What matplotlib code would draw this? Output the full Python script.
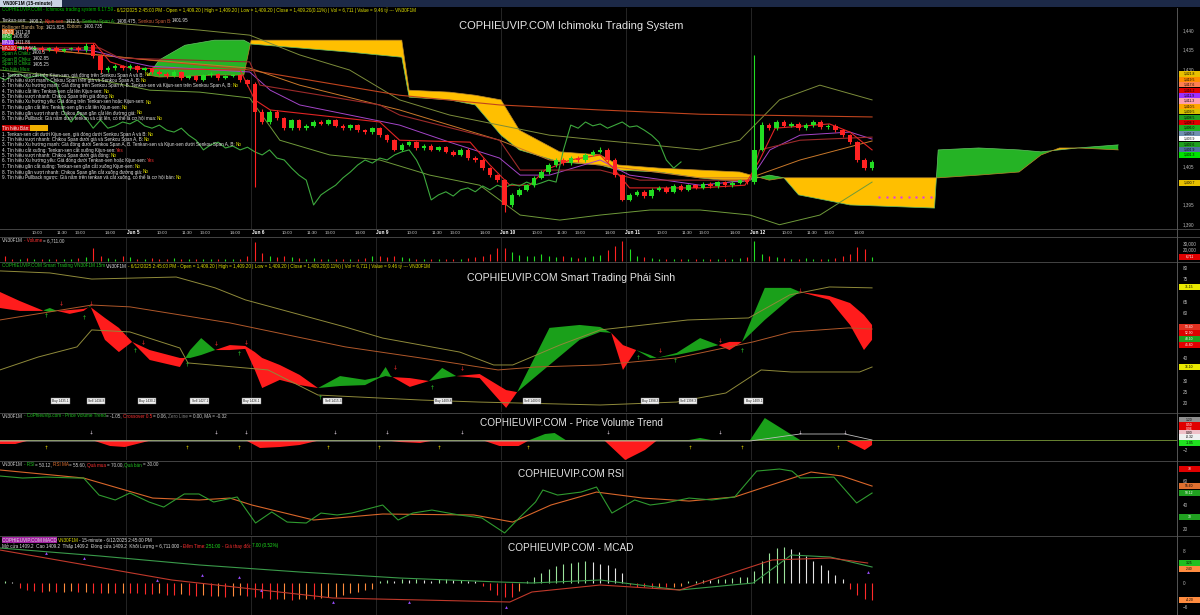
import matplotlib
matplotlib.use("Agg")
import numpy as np
import matplotlib.pyplot as plt
from matplotlib import font_manager
from matplotlib.patches import Rectangle
from matplotlib.text import Annotation
from matplotlib.transforms import blended_transform_factory

W, H = 1200, 615
plt.rcParams['font.family'] = ['Liberation Sans', 'DejaVu Sans']

installed = {f.name for f in font_manager.fontManager.ttflist}
if 'Liberation Sans Narrow' in installed:
    TINY = ['Liberation Sans Narrow', 'DejaVu Sans']
    TINY_SIZE = 3.9
else:
    TINY = ['Liberation Sans', 'DejaVu Sans']
    TINY_SIZE = 3.3

# ---------------- data: VN30F1M 15-minute, 17 bars per session ----------------
day_labels = ["Jun 4", "Jun 5", "Jun 6", "Jun 9", "Jun 10", "Jun 11", "Jun 12"]
bars_per_day = 17
time_labels = ["10:00", "11:30", "13:00", "14:00"]
time_bar_in_day = [4.4, 7.8, 10.2, 14.3]

opens = [
    1436.3, 1435.9, 1435.4, 1435.6, 1435.1, 1435.4, 1434.8, 1435.4, 1434.6, 1435.1, 1435.4, 1434.8, 1436.2, 1433.4, 1429.7, 1430.2, 1430.7,
    1430.2, 1430.7, 1429.7, 1430.2, 1429.2, 1428.7, 1428.1, 1429.2, 1427.6, 1428.1, 1427.1, 1428.4, 1428.7, 1427.6, 1428.1, 1428.4, 1427.1,
    1426.1, 1418.9, 1416.3, 1418.9, 1417.3, 1414.7, 1416.8, 1414.7, 1415.3, 1416.3, 1415.8, 1416.8, 1415.3, 1414.7, 1415.5, 1414.2, 1413.7,
    1414.7, 1412.9, 1411.6, 1409.1, 1410.4, 1411.1, 1409.6, 1410.1, 1409.1, 1409.8, 1408.6, 1407.8, 1409.1, 1407.0, 1406.5, 1404.4, 1402.6,
    1401.3, 1394.9, 1397.5, 1398.8, 1400.0, 1401.9, 1403.4, 1405.2, 1406.5, 1405.7, 1407.0, 1406.5, 1407.8, 1408.6, 1409.1, 1406.5, 1402.6,
    1396.2, 1397.5, 1398.3, 1397.2, 1398.8, 1399.3, 1398.3, 1399.8, 1398.8, 1400.0, 1399.3, 1400.3, 1399.8, 1400.8, 1400.0, 1400.6, 1401.3,
    1400.8, 1409.1, 1415.5, 1414.7, 1416.3, 1415.3, 1415.8, 1414.7, 1415.5, 1416.3, 1415.0, 1415.3, 1414.2, 1412.9, 1411.1, 1406.5, 1404.4,
]
closes = [
    1435.9, 1435.4, 1435.6, 1435.1, 1435.4, 1434.8, 1435.4, 1434.6, 1435.1, 1435.4, 1434.8, 1435.9, 1433.2, 1429.7, 1430.2, 1430.7, 1430.2,
    1430.7, 1429.7, 1430.2, 1429.2, 1428.7, 1428.1, 1429.2, 1427.6, 1428.1, 1427.1, 1428.4, 1428.7, 1427.6, 1428.1, 1428.4, 1427.1, 1426.1,
    1418.9, 1416.3, 1418.9, 1417.3, 1414.7, 1416.8, 1414.7, 1415.3, 1416.3, 1415.8, 1416.8, 1415.3, 1414.7, 1415.5, 1414.2, 1413.7, 1414.7,
    1412.9, 1411.6, 1409.1, 1410.4, 1411.1, 1409.6, 1410.1, 1409.1, 1409.8, 1408.6, 1407.8, 1409.1, 1407.0, 1406.5, 1404.4, 1402.6, 1401.3,
    1394.9, 1397.5, 1398.8, 1400.0, 1401.9, 1403.4, 1405.2, 1406.5, 1405.7, 1407.0, 1406.5, 1407.8, 1408.6, 1409.1, 1406.5, 1402.6, 1396.2,
    1397.5, 1398.3, 1397.2, 1398.8, 1399.3, 1398.3, 1399.8, 1398.8, 1400.0, 1399.3, 1400.3, 1399.8, 1400.8, 1400.0, 1400.6, 1401.3, 1400.8,
    1409.1, 1415.5, 1414.7, 1416.3, 1415.3, 1415.8, 1414.7, 1415.5, 1416.3, 1415.0, 1415.3, 1414.2, 1412.9, 1411.1, 1406.5, 1404.4, 1406.0,
]
highs = [
    1436.8, 1436.3, 1436.0, 1436.0, 1435.8, 1435.8, 1435.7, 1435.8, 1435.4, 1435.7, 1435.8, 1436.6, 1436.6, 1433.9, 1430.8, 1431.2, 1431.0,
    1431.3, 1431.1, 1430.6, 1430.5, 1429.6, 1429.1, 1429.6, 1429.5, 1428.5, 1428.4, 1428.8, 1429.1, 1429.0, 1428.5, 1428.8, 1428.7, 1427.5,
    1426.6, 1419.6, 1419.3, 1419.4, 1417.7, 1417.2, 1417.1, 1415.9, 1416.8, 1416.7, 1417.2, 1417.1, 1415.7, 1415.9, 1415.8, 1414.6, 1415.1,
    1415.1, 1413.3, 1412.0, 1410.8, 1411.5, 1411.5, 1410.5, 1410.5, 1410.2, 1410.2, 1409.0, 1409.5, 1409.5, 1407.4, 1406.9, 1404.8, 1403.0,
    1401.7, 1397.9, 1399.2, 1400.4, 1402.3, 1403.8, 1405.6, 1406.9, 1406.9, 1407.4, 1407.4, 1408.2, 1409.0, 1409.8, 1409.5, 1406.9, 1403.0,
    1398.0, 1398.7, 1398.7, 1399.2, 1399.7, 1399.7, 1400.2, 1400.2, 1400.4, 1400.4, 1400.7, 1400.7, 1401.2, 1401.2, 1401.0, 1401.7, 1401.7,
    1433.6, 1416.2, 1416.0, 1416.8, 1416.7, 1416.2, 1416.2, 1416.0, 1416.8, 1416.7, 1415.8, 1415.7, 1414.6, 1413.3, 1411.5, 1407.0, 1406.5,
]
lows = [
    1435.5, 1435.0, 1435.0, 1434.7, 1434.8, 1434.4, 1434.5, 1434.2, 1434.3, 1434.8, 1434.4, 1434.4, 1432.8, 1429.0, 1429.3, 1429.8, 1429.8,
    1429.8, 1429.3, 1429.4, 1428.8, 1428.3, 1427.7, 1427.8, 1427.2, 1427.3, 1426.8, 1426.8, 1428.0, 1427.2, 1427.3, 1427.8, 1426.7, 1425.7,
    1399.5, 1415.8, 1415.9, 1416.9, 1414.3, 1414.3, 1414.3, 1414.3, 1414.9, 1415.4, 1415.4, 1414.9, 1414.3, 1414.3, 1413.8, 1413.3, 1413.3,
    1412.5, 1411.2, 1408.7, 1408.7, 1410.0, 1409.2, 1409.2, 1408.7, 1408.7, 1408.2, 1407.4, 1407.4, 1406.6, 1406.1, 1404.0, 1402.2, 1400.9,
    1393.1, 1394.5, 1397.1, 1398.4, 1399.6, 1401.5, 1403.0, 1404.8, 1405.3, 1405.3, 1406.1, 1406.1, 1407.4, 1408.2, 1406.1, 1402.2, 1395.8,
    1395.8, 1397.1, 1396.8, 1396.8, 1398.4, 1397.9, 1397.9, 1398.4, 1398.4, 1398.9, 1398.9, 1399.4, 1399.4, 1399.6, 1399.6, 1400.2, 1400.4,
    1400.3, 1408.7, 1414.3, 1414.3, 1414.9, 1414.9, 1414.3, 1414.3, 1415.1, 1414.6, 1414.6, 1413.8, 1412.5, 1410.7, 1406.1, 1404.0, 1404.0,
]
volumes = [
    9000, 4000, 3500, 5000, 3000, 3500, 4000, 3000, 3500, 4000, 5000, 6000, 21000, 9000, 5000, 4000, 8000,
    7000, 4000, 3000, 4500, 3000, 3000, 5000, 3000, 2500, 3000, 4000, 3000, 3000, 2500, 3000, 4000, 9000,
    32000, 14000, 9000, 7000, 8000, 6000, 5000, 4000, 5000, 4000, 3500, 3000, 4000, 3500, 4000, 5000, 9000,
    8000, 7000, 9000, 6000, 5000, 4000, 4000, 3500, 3000, 3500, 4000, 3000, 5000, 6000, 9000, 12000, 21000,
    22000, 15000, 10000, 9000, 8000, 12000, 9000, 7000, 8000, 6000, 5000, 6000, 8000, 10000, 18000, 25000, 33000,
    20000, 9000, 6000, 5000, 4000, 3500, 3000, 4000, 3000, 3500, 3000, 4000, 3500, 3000, 4000, 5000, 7000,
    33000, 12000, 8000, 6000, 5000, 4000, 4000, 5000, 4000, 3500, 4000, 5000, 8000, 12000, 24000, 20000, 6711,
]

# Ichimoku cloud (already shifted forward)
cloud_x = [19.5, 21, 24.5, 28.5, 32.5, 33.5, 40, 47, 54, 55, 60.5, 64, 67.5, 70, 75.5, 81, 83.5, 89, 94.5,
           100, 104, 106, 108, 115, 126.5, 127, 132.5, 138, 141, 143.5, 146, 151.5]
span_a = [1428.4, 1432.3, 1436.1, 1437.4, 1437.4, 1436.4, 1435.4, 1434.3, 1433.0, 1422.7, 1422.0, 1420.7,
          1412.9, 1409.1, 1406.0, 1405.2, 1403.9, 1403.4, 1401.9, 1400.8, 1402.6, 1401.9, 1397.5, 1394.9, 1394.1,
          1409.1, 1409.6, 1409.1, 1408.6, 1409.1, 1409.6, 1410.4]
span_b = [1428.4, 1427.9, 1428.1, 1428.4, 1428.4, 1437.4, 1437.4, 1437.4, 1437.4, 1424.5, 1424.0, 1423.2,
          1422.0, 1414.2, 1408.6, 1407.8, 1405.2, 1404.4, 1403.9, 1403.4, 1401.3, 1401.9, 1401.9, 1401.9, 1401.9,
          1401.9, 1402.6, 1403.4, 1407.8, 1409.6, 1409.6, 1409.1]
chikou_shift = 26

tenkan_x = [-0.7, 12.2, 14.3, 17, 32, 34, 36.1, 51, 53.7, 63.3, 66, 68.7, 71.4, 73.5, 76.9, 81, 83, 85, 94.6,
            100.7, 102.7, 104.8, 112.2, 115, 118]
tenkan = [1436.6, 1436.6, 1431.8, 1430.2, 1429.7, 1422.0, 1419.4, 1416.3, 1411.6, 1411.1, 1405.2, 1400.0, 1400.0,
          1403.9, 1406.5, 1407.8, 1403.9, 1399.3, 1399.3, 1400.0, 1406.5, 1414.7, 1415.8, 1413.7, 1409.1]
kijun_x = [-0.7, 12.9, 15.6, 33.3, 34.7, 51, 53.7, 67.3, 70.1, 81, 86.4, 101.4, 102.7, 108.2, 118]
kijun = [1435.4, 1435.4, 1432.8, 1431.8, 1425.8, 1420.7, 1418.1, 1411.6, 1403.9, 1403.9, 1401.3, 1401.3, 1409.1,
         1411.6, 1412.4]
ma10_x = [-0.7, 11.6, 14.3, 17, 19.7, 33.3, 36.1, 40.1, 46.9, 53.7, 60.5, 67.3, 70.1, 74.1, 81, 85, 94.6, 101.4,
          104.1, 108.2, 115, 118]
ma10 = [1435.4, 1434.8, 1433.6, 1431.8, 1430.7, 1429.2, 1424.5, 1420.7, 1418.1, 1415.5, 1411.1, 1407.0, 1402.6,
        1402.6, 1406.5, 1402.6, 1400.0, 1401.3, 1409.1, 1412.9, 1413.7, 1411.9]
ma20_x = [-0.7, 19.7, 33.3, 40.1, 53.7, 67.3, 74.1, 81, 94.6, 101.4, 108.2, 118]
ma20 = [1436.1, 1432.3, 1430.2, 1425.8, 1419.4, 1411.6, 1406.5, 1405.2, 1401.9, 1401.9, 1406.5, 1411.4]
ma200_x = [-0.7, 33.3, 53.7, 67.3, 81, 94.6, 118]
ma200 = [1436.1, 1429.7, 1423.2, 1420.7, 1419.4, 1418.3, 1417.6]
bb_up_x = [-0.7, 12.9, 26.5, 33.3, 40.1, 46.9, 53.7, 60.5, 67.3, 74.1, 81, 87.8, 94.6, 100, 105.4, 110.9, 118]
bb_up = [1442.1, 1442.1, 1440.0, 1438.7, 1433.6, 1429.7, 1422.0, 1418.1, 1415.5, 1412.9, 1411.6, 1410.4, 1409.1,
         1411.6, 1422.0, 1425.8, 1422.0]
bb_dn_x = [-0.7, 12.9, 19.7, 26.5, 33.3, 37.4, 44.2, 51, 57.8, 64.6, 70.1, 75.5, 81, 87.8, 94.6, 101.4, 105.4,
           110.9, 118]
bb_dn = [1429.7, 1427.1, 1424.5, 1424.0, 1422.5, 1411.6, 1407.8, 1406.5, 1402.6, 1400.0, 1392.3, 1391.0, 1392.3,
         1393.6, 1393.6, 1392.3, 1389.8, 1392.3, 1400.8]
proj_x = [119, 120, 121, 122, 123, 124, 125, 126]
proj_v = [1397.0, 1397.0, 1397.0, 1397.0, 1397.0, 1397.0, 1397.0, 1397.0]
price_ticks = [1390, 1395, 1405, 1430, 1435, 1440]

main_tag_text = ["1,421.8", "1,419.5", "1,417.6", "1,416.2", "1,411.9", "1,411.3", "1,410.5", "1,409.5",
                 "1,408.5", "1,408.2", "1,406.0", "1,405.2", "1,403.9", "1,402.6", "1,401.9", "1,401.3"]
main_tag_color = ['#e8c000', '#ff8c00', '#ff7f50', '#e00000', '#9b30ff', '#ff9fb0', '#ffa500', '#d8c000',
                  '#20a020', '#e00000', '#20b020', '#7090b0', '#ffffff', '#20a020', '#5070a0', '#00e000']

# Smart Trading oscillator
st_x = [-0.7, 2.0, 5.0, 6.1, 7.1, 8.8, 10.7, 11.6, 13.6, 15.5, 17.3, 19.7, 23.8, 25.2, 26.7, 28.6, 30.6, 32.7,
        34.0, 35.0, 37.4, 40.1, 42.6, 45.6, 49.0, 50.9, 51.8, 52.5, 55.1, 57.7, 59.5, 61.4, 64.6, 68.2, 69.7,
        74.1, 78.2, 81.0, 82.5, 84.1, 85.9, 87.8, 88.7, 91.4, 94.6, 97.1, 98.6, 100.3, 103.4, 106.9, 108.2,
        112.2, 115.0, 116.9, 118]
st_fast = [62.2, 60.9, 60.9, 62.2, 60.9, 59.6, 60.9, 63.1, 48.1, 42.7, 47.2, 39.2, 36.1, 43.6, 48.9, 43.6, 43.6,
           44.1, 34.8, 26.8, 30.4, 28.1, 26.8, 32.1, 30.4, 31.7, 36.1, 32.1, 27.3, 29.9, 35.7, 32.1, 31.2, 18.0,
           25.0, 53.4, 54.7, 53.8, 51.2, 34.8, 43.6, 41.4, 40.1, 42.3, 48.9, 45.8, 43.6, 47.2, 71.1, 71.1, 69.3,
           65.8, 54.7, 43.6, 48.1]
st_slow = [69.3, 65.3, 61.3, 60.4, 60.9, 61.3, 61.8, 62.7, 57.8, 53.4, 47.2, 43.6, 40.1, 40.1, 41.4, 43.6, 45.8,
           45.4, 42.7, 40.1, 37.0, 32.6, 26.8, 27.7, 28.1, 31.2, 32.1, 31.7, 31.2, 29.9, 31.2, 32.1, 33.0, 25.9,
           25.0, 37.0, 48.1, 51.6, 51.2, 45.8, 43.6, 40.1, 40.1, 41.4, 43.6, 45.8, 47.2, 47.2, 56.9, 66.6, 69.3,
           67.5, 64.4, 59.1, 54.7]
st_up_x = [-0.7, 6.1, 11.8, 23.3, 28.6, 32.7, 46.3, 51.4, 61.9, 66.5, 69.1, 75.5, 81.0, 92.9, 101.2, 106.8, 112.2, 118]
st_up = [78.6, 77.7, 75.0, 75.9, 71.1, 65.8, 53.8, 48.9, 42.7, 37.0, 37.0, 45.8, 52.5, 56.9, 57.8, 68.0, 71.5, 71.1]
st_mid_x = [-0.7, 11.8, 17.0, 30.6, 46.3, 56.6, 67.1, 72.2, 81.0, 91.4, 101.8, 107.0, 114.8, 118]
st_mid = [56.9, 63.5, 62.7, 55.6, 45.0, 40.1, 34.8, 36.1, 37.0, 40.1, 47.2, 51.6, 53.4, 52.9]
st_dn_x = [-0.7, 4.5, 9.8, 11.8, 17.0, 23.8, 24.9, 35.8, 42.6, 56.6, 64.5, 81.0, 91.4, 98.1, 102.9, 107.0, 116.3, 118]
st_dn = [34.8, 40.5, 45.0, 52.5, 51.6, 44.5, 37.9, 34.8, 23.7, 21.5, 20.6, 19.3, 20.6, 24.6, 34.8, 33.9, 33.9, 36.1]
st_sell_x = [7.6, 11.7, 18.8, 28.7, 32.8, 53.1, 62.2, 89.1, 97.3, 108.2]
st_sell_v = [64.4, 64.4, 47.2, 46.7, 47.2, 36.1, 35.7, 43.6, 48.1, 70.2]
st_buy_x = [5.6, 10.7, 17.7, 24.8, 31.8, 42.9, 58.1, 86.1, 91.2, 100.3]
st_buy_v = [59.1, 58.2, 43.6, 37.4, 42.3, 22.8, 27.3, 40.5, 39.2, 43.6]
st_box_x = [7.5, 12.4, 19.3, 26.5, 33.5, 44.6, 59.6, 71.7, 87.8, 92.9, 101.9]
st_box_text = ["Buy 1435.1", "Sell 1434.8", "Buy 1430.2", "Sell 1427.1", "Buy 1426.1", "Sell 1415.3",
               "Buy 1409.8", "Sell 1400.0", "Buy 1398.3", "Sell 1398.3", "Buy 1409.1"]
st_box_level = 21.1
st_ticks = [20, 25, 30, 40, 60, 65, 75, 80]

# Price Volume Trend
pvt_x = [-0.7, 1.4, 3.5, 11.8, 14.3, 16.3, 20.1, 32.7, 34.7, 37.4, 40.1, 43.0, 51.4, 53.7, 56.5, 58.6, 64.9,
         67.3, 69.9, 71.4, 73.5, 74.8, 76.3, 81.5, 84.4, 87.1, 88.8, 93.1, 94.6, 96.1, 101.4, 103.4, 108.2, 114.3,
         117.0, 118]
pvt = [-0.8, -0.8, 0, 0, -1.2, -1.4, 0, 0, -1.6, -1.4, -1.0, 0, 0, -0.4, -0.6, 0, 0, -1.2, -1.2, 0, 1.2, 1.4, 0,
       0, -4.0, -2.0, 0, 0, 0.4, 0, 0, 4.4, 0, 0, -2.0, -1.0]
pvt_ma_x = [-0.7, 101.4, 108.2, 114.3, 118]
pvt_ma = [-0.2, -0.2, 1.2, 1.2, 0.0]
pvt_up_x = [11.7, 28.7, 32.8, 44.9, 52.0, 62.2, 82.0, 97.3, 108.2, 114.3]
pvt_dn_x = [5.6, 24.8, 31.8, 44.0, 50.9, 59.1, 71.2, 93.2, 100.3, 113.3]

# RSI
rsi_x = [-0.7, 2.4, 5.6, 9.8, 10.7, 12.8, 15.0, 17.0, 19.6, 21.6, 24.4, 26.4, 28.4, 31.6, 34.1, 36.3, 38.4, 41.0,
         43.0, 45.2, 47.2, 51.4, 53.5, 55.5, 58.1, 61.8, 64.9, 68.0, 70.1, 72.2, 73.2, 75.2, 78.4, 80.5, 82.6, 85.7,
         87.8, 89.9, 93.1, 96.2, 99.3, 102.3, 105.4, 107.1, 108.2, 112.8, 115.9, 118.0]
rsi = [64.2, 62.5, 63.3, 62.5, 62.5, 48.3, 44.2, 50.0, 42.5, 38.3, 49.2, 49.2, 42.5, 46.7, 25.0, 34.2, 25.8, 25.0,
       33.3, 31.7, 33.3, 40.0, 27.5, 33.3, 35.8, 31.7, 29.2, 16.7, 30.0, 42.5, 52.5, 48.3, 50.8, 55.0, 33.3, 44.2,
       40.0, 41.7, 45.8, 44.2, 46.7, 68.3, 70.0, 68.3, 62.5, 63.3, 41.7, 50.0]
rsi_ma_x = [-0.7, 10.7, 20.1, 26.4, 30.6, 33.6, 42.0, 51.4, 63.8, 69.1, 74.3, 80.5, 86.8, 93.1, 99.3, 103.4,
            109.7, 113.9, 118.0]
rsi_ma = [69.2, 62.5, 45.8, 44.2, 45.8, 40.0, 27.5, 32.5, 31.7, 25.8, 40.0, 50.8, 45.8, 43.3, 46.7, 55.0, 67.5,
          64.2, 55.8]

# MACD
macd_hist = [
    0.5, 0.3, -1.2, -1.8, -2.0, -2.2, -2.0, -2.3, -2.2, -2.0, -2.3, -2.2, -2.4, -2.6, -2.5, -2.6, -2.4,
    -2.5, -2.6, -2.7, -2.8, -2.6, -2.9, -3.0, -2.8, -3.1, -3.2, -3.0, -3.3, -3.2, -3.4, -3.2, -3.0, -3.3,
    -3.6, -3.8, -3.9, -4.1, -4.0, -4.2, -4.1, -3.9, -4.0, -3.8, -3.6, -3.4, -3.0, -2.6, -2.2, -1.8, -1.4,
    0.6, 0.8, 0.5, 0.9, 0.7, 1.0, 0.8, 0.6, 0.9, 1.1, 0.7, 0.8, 0.5, 0.4, -0.8, -1.8, -3.0,
    -3.5, -3.6, -2.0, 0.5, 1.5, 2.5, 3.5, 4.2, 4.8, 5.0, 5.3, 5.5, 5.2, 4.8, 4.5, 3.8, 2.5,
    -0.6, -0.9, -1.1, -1.2, -1.0, -1.1, -0.9, -0.8, 0.4, 0.6, 0.8, 0.7, 0.9, 1.0, 1.2, 1.4, 1.6,
    3.0, 5.5, 7.5, 8.8, 9.0, 8.6, 7.8, 6.8, 5.5, 4.5, 3.2, 2.0, 1.0, -1.5, -3.0, -4.0, -4.2,
]
macd_x = [-0.7, 12.9, 26.5, 40.1, 53.7, 67.3, 71.7, 81.0, 91.8, 101.8, 107.0, 112.3, 118]
macd_line = [8.75, 6.75, 4.5, 2.75, 1.25, 0.25, 0.0, 0.75, -1.75, 0.0, 7.0, 6.5, 4.0]
signal_x = [-0.7, 22.7, 44.6, 68.7, 71.7, 81.0, 91.8, 104.4, 112.3, 117.4]
signal_line = [8.25, 0.75, -3.75, -4.75, -2.25, -0.5, -1.75, 5.75, 6.25, 5.0]
macd_mark_x = [5.6, 10.7, 20.7, 26.8, 31.8, 34.8, 44.6, 55.0, 68.2, 117.4]
macd_mark_v = [7.5, 6.25, 0.75, 2.0, 1.5, -1.75, -4.75, -4.75, -6.0, 2.75]

buy_rules = [
    "1. Tenkan-sen cắt trên Kijun-sen, giá đóng trên Senkou Span A và B:",
    "2. Tín hiệu vượt mạnh: Chikou Span trên giá và Senkou Span A, B:",
    "3. Tín hiệu Xu hướng mạnh: Giá đóng trên Senkou Span A, B. Tenkan-sen và Kijun-sen trên Senkou Span A, B:",
    "4. Tín hiệu cắt lên: Tenkan-sen cắt lên Kijun-sen:",
    "5. Tín hiệu vượt nhanh: Chikou Span trên giá đóng:",
    "6. Tín hiệu Xu hướng yếu: Giá đóng trên Tenkan-sen hoặc Kijun-sen:",
    "7. Tín hiệu gần cắt lên: Tenkan-sen gần cắt lên Kijun-sen:",
    "8. Tín hiệu gần vượt nhanh: Chikou Span gần cắt lên đường giá:",
    "9. Tín hiệu Pullback: Giá nằm dưới tenkan và cắt lên, có thể là cơ hội mua:",
]
buy_answers = ["No", "No", "No", "No", "No", "No", "No", "No", "No"]
sell_rules = [
    "1. Tenkan-sen cắt dưới Kijun-sen, giá đóng dưới Senkou Span A và B:",
    "2. Tín hiệu vượt nhanh: Chikou Span dưới giá và Senkou Span A, B:",
    "3. Tín hiệu Xu hướng mạnh: Giá đóng dưới Senkou Span A, B. Tenkan-sen và Kijun-sen dưới Senkou Span A, B:",
    "4. Tín hiệu cắt xuống: Tenkan-sen cắt xuống Kijun-sen:",
    "5. Tín hiệu vượt nhanh: Chikou Span dưới giá đóng:",
    "6. Tín hiệu Xu hướng yếu: Giá đóng dưới Tenkan-sen hoặc Kijun-sen:",
    "7. Tín hiệu gần cắt xuống: Tenkan-sen gần cắt xuống Kijun-sen:",
    "8. Tín hiệu gần vượt nhanh: Chikou Span gần cắt xuống đường giá:",
    "9. Tín hiệu Pullback ngược: Giá nằm trên tenkan và cắt xuống, có thể là cơ hội bán:",
]
sell_answers = ["No", "No", "No", "Yes", "No", "Yes", "No", "No", "No"]

# ---------------- figure ----------------
N = len(closes)
X_MIN, X_MAX = -0.68, 159.5
idx = np.arange(N)
UP, DOWN = '#22dd22', '#ff2222'

fig = plt.figure(figsize=(W / 100, H / 100), dpi=100, facecolor='black')


def pane(y0, y1):
    ax = fig.add_axes([0, 1 - y1 / H, 1177 / W, (y1 - y0) / H])
    ax.set_facecolor('black')
    ax.set_xlim(X_MIN, X_MAX)
    for s in ax.spines.values():
        s.set_visible(False)
    ax.tick_params(axis='x', bottom=False, labelbottom=False)
    ax.yaxis.tick_right()
    ax.tick_params(axis='y', right=False, labelright=True, labelsize=3.3,
                   labelcolor='#b8b8b8', pad=4, length=0)
    for d in range(1, len(day_labels)):
        ax.axvline(d * bars_per_day - 0.5, color='#2a2a2a', lw=0.6, zorder=0)
    return ax


def chain(x, y, parts, size=None):
    size = size or TINY_SIZE
    prev = None
    for part in parts:
        txt, col = part[0], part[1]
        kw = dict(color=col, fontsize=size, fontfamily=TINY, zorder=8)
        if len(part) > 2:
            kw['bbox'] = dict(boxstyle='square,pad=0.08', fc=part[2], ec='none')
        if prev is None:
            prev = fig.text(x / W, 1 - y / H, txt, ha='left', va='center', **kw)
        else:
            prev = fig.add_artist(Annotation(txt, xy=(1, 0.5), xycoords=prev, xytext=(0.6, 0),
                                             textcoords='offset points', ha='left', va='center', **kw))
    return prev


def tag(y, text, fc, tc='black'):
    fig.add_artist(Rectangle((1179 / W, 1 - (y + 2.6) / H), 21 / W, 5.2 / H,
                             transform=fig.transFigure, fc=fc, ec='none', zorder=6))
    fig.text(1189.5 / W, 1 - y / H, text, fontsize=2.4, color=tc, ha='center', va='center', zorder=7)


def title(y, text, size=7.2):
    fig.text(571 / W, 1 - y / H, text, color='#e4e4e4', fontsize=size, ha='center', va='center', zorder=8)


# top strip
fig.add_artist(Rectangle((0, 1 - 7 / H), 1, 7 / H, transform=fig.transFigure, fc='#1c2947', ec='none'))
fig.add_artist(Rectangle((0, 1 - 7 / H), 62 / W, 7 / H, transform=fig.transFigure, fc='#c9d3e3', ec='none'))
fig.text(3 / W, 1 - 3.6 / H, "VN30F1M (15-minute)", fontsize=3.4, color='black', va='center', fontweight='bold')

# ---------- main ichimoku pane ----------
ax = pane(8, 229)
ax.set_ylim(1388.7, 1445.7)
ax.set_yticks(price_ticks)
ax.set_yticklabels([f"{t:,}" for t in price_ticks])

cx, a, b = np.array(cloud_x), np.array(span_a), np.array(span_b)
ax.fill_between(cx, a, b, where=a >= b, interpolate=True, color='#25b325', lw=0, zorder=1)
ax.fill_between(cx, a, b, where=a < b, interpolate=True, color='#ffbf00', lw=0, zorder=1)
ax.plot(cx, a, color='#66c266', lw=0.5, zorder=2)
ax.plot(cx, b, color='#b8862b', lw=0.5, zorder=2)

ax.plot(bb_up_x, bb_up, color='#7c8c3a', lw=0.7, zorder=2)
ax.plot(bb_dn_x, bb_dn, color='#6f9a3a', lw=0.7, zorder=2)
ax.plot(ma200_x, ma200, color='#c0441e', lw=0.8, zorder=2)
ax.plot(ma20_x, ma20, color='#c8782a', lw=0.7, zorder=2)
ax.plot(ma10_x, ma10, color='#a445c8', lw=0.7, zorder=2)
ax.plot(kijun_x, kijun, color='#9c2a2a', lw=0.8, zorder=2)
ax.plot(tenkan_x, tenkan, color='#e02424', lw=0.8, zorder=2)
ax.plot(idx - chikou_shift, closes, color='#3da83d', lw=0.8, zorder=2)

o, c, hi, lo = map(np.array, (opens, closes, highs, lows))
col = np.where(c >= o, UP, DOWN)
ax.vlines(idx, lo, hi, colors=col, lw=0.8, zorder=3)
body = np.where(np.abs(c - o) < 0.25, 0.25, c - o)
ax.bar(idx, body, bottom=o, width=0.62, color=col, lw=0, zorder=4)
ax.scatter(proj_x, proj_v, s=3, color='#e040e0', lw=0, zorder=4)

title(26, "COPHIEUVIP.COM Ichimoku Trading System", 8.0)

for i, (t, fc) in enumerate(zip(main_tag_text, main_tag_color)):
    tag(74 + i * 5.4, t, fc)
tag(183, "1,400.7", '#e8c000')

# legend block
chain(2, 10, [("COPHIEUVIP.COM - Ichimoku trading system 6.17.59", '#00c000'),
              ("- 6/12/2025 2:45:00 PM - Open = 1,409.20 | High = 1,409.20 | Low = 1,409.20 | Close = 1,409.20(0.11%) | Vol = 6,711 | Value = 9.46 tỷ --- VN30F1M", '#e0e000')])
chain(2, 21, [("Tenkan-sen:", '#e0e0e0'), ("1408.2,", '#e0e0e0'), ("Kijun-sen:", '#ff3030'), ("1412.5,", '#e0e0e0'),
              ("Senkou Span A:", '#20c020'), ("1408.475,", '#e0e0e0'), ("Senkou Span B:", '#d0603a'), ("1401.95", '#e0e0e0')])
chain(2, 27, [("Bollinger Bands Top:", '#d8b070'), ("1421.825,", '#e0e0e0'), ("Bottom:", '#d8b070'), ("1400.735", '#e0e0e0')])
chain(2, 32, [("MA20", 'white', '#d2691e'), ("1411.28", '#e0e0e0')])
chain(2, 37, [("MA5", 'white', '#1e9e1e'), ("1408.86", '#e0e0e0')])
chain(2, 43, [("MA10", 'white', '#8a2be2'), ("1411.86", '#e0e0e0')])
chain(2, 48, [("MA200", 'white', '#c00000'), ("1417.561", '#e0e0e0')])
chain(2, 53, [("Span A Chiku:", '#20c020'), ("1400.5", '#e0e0e0')])
chain(2, 59, [("Span B Chiku:", '#20c020'), ("1402.85", '#e0e0e0')])
chain(2, 64, [("Span B Chiku:", '#20c020'), ("1405.25", '#e0e0e0')])
chain(2, 69, [("Tín hiệu Mua:", '#20c020')])
for i, (r, ans) in enumerate(zip(buy_rules, buy_answers)):
    chain(2, 75 + i * 5.4, [(r, '#e6e6e6'), (ans, '#e0e000' if ans == "No" else '#ff3030')])
chain(2, 128, [("Tín hiệu Bán:", 'white', '#c00000'), ("              ", 'white', '#f0b000')])
for i, (r, ans) in enumerate(zip(sell_rules, sell_answers)):
    chain(2, 134 + i * 5.4, [(r, '#e6e6e6'), (ans, '#e0e000' if ans == "No" else '#ff3030')])

# time axis strip
tr = blended_transform_factory(ax.transData, fig.transFigure)
for d, name in enumerate(day_labels):
    base = d * bars_per_day
    if d > 0:
        ax.text(base + 0.4, 1 - 232.5 / H, name, transform=tr, fontsize=3.4, color='white',
                fontweight='bold', ha='center', va='center', clip_on=False)
    for lab, off in zip(time_labels, time_bar_in_day):
        ax.text(base + off, 1 - 232.5 / H, lab, transform=tr, fontsize=3.2, color='#cfcfcf',
                ha='center', va='center', clip_on=False)

# ---------- volume pane ----------
axv = pane(237, 262)
axv.set_ylim(-1700, 40000)
axv.set_yticks([20000, 30000])
axv.set_yticklabels(["20,000", "30,000"])
axv.vlines(idx, 0, volumes, colors=col, lw=0.8)
chain(2, 240.5, [("VN30F1M", '#cfcfcf'), ("- Volume", '#ff3030'), ("= 6,711.00", '#cfcfcf')])
tag(257, "6,711", '#e00000', 'white')

# ---------- smart trading pane ----------
axs = pane(263, 412)
axs.set_ylim(16.2, 82.1)
axs.set_yticks(st_ticks)
sx, sf, ss = np.array(st_x), np.array(st_fast), np.array(st_slow)
axs.fill_between(sx, sf, ss, where=sf >= ss, interpolate=True, color='#1aa01a', lw=0, zorder=2)
axs.fill_between(sx, sf, ss, where=sf < ss, interpolate=True, color='#ff1c1c', lw=0, zorder=2)
axs.plot(st_up_x, st_up, color='#8f8a3a', lw=0.7, zorder=3)
axs.plot(st_mid_x, st_mid, color='#b0582a', lw=0.7, zorder=3)
axs.plot(st_dn_x, st_dn, color='#8f8a3a', lw=0.7, zorder=3)
axs.scatter(st_sell_x, st_sell_v, marker=r'$\downarrow$', s=9, color='#ff3030', lw=0, zorder=4)
axs.scatter(st_buy_x, st_buy_v, marker=r'$\uparrow$', s=9, color='#30d030', lw=0, zorder=4)
for bx, bt in zip(st_box_x, st_box_text):
    axs.text(bx, st_box_level, bt, fontsize=2.3, color='#202020', ha='center', va='center', zorder=5,
             bbox=dict(boxstyle='square,pad=0.35', fc='#f0f0f0', ec='#808080', lw=0.3))
title(278, "COPHIEUVIP.COM Smart Trading Phái Sinh", 7.6)
chain(2, 266, [("COPHIEUVIP.COM Smart Trading VN30F1M 15m", '#20c020'), ("VN30F1M", '#e0e0e0'),
               ("- 6/12/2025 2:45:00 PM - Open = 1,409.20 | High = 1,409.20 | Low = 1,409.20 | Close = 1,409.20(0.11%) | Vol = 6,711 | Value = 9.46 tỷ --- VN30F1M", '#e0e000')])
tag(287, "71.15", '#e8e800')
tag(327, "53.40", '#e03020', 'white')
tag(333, "52.90", '#e00000', 'white')
tag(339, "48.10", '#20a020', 'white')
tag(345, "45.80", '#e00000', 'white')
tag(367, "36.10", '#e8e800')

# ---------- price volume trend pane ----------
axp = pane(413, 460)
axp.set_ylim(-4.0, 5.4)
axp.set_yticks([-2])
px_, pv = np.array(pvt_x), np.array(pvt)
axp.fill_between(px_, pv, 0, where=pv >= 0, interpolate=True, color='#1aa01a', lw=0)
axp.fill_between(px_, pv, 0, where=pv < 0, interpolate=True, color='#ff1c1c', lw=0)
axp.axhline(0, color='#7a9a3a', lw=0.6)
axp.plot(pvt_ma_x, pvt_ma, color='#bdbdbd', lw=0.6)
axp.scatter(pvt_up_x, [1.6] * len(pvt_up_x), marker=r'$\downarrow$', s=7, color='#f0e0f0', lw=0, zorder=4)
axp.scatter(pvt_dn_x, [-1.4] * len(pvt_dn_x), marker=r'$\uparrow$', s=7, color='#f0e000', lw=0, zorder=4)
title(423, "COPHIEUVIP.COM - Price Volume Trend")
chain(2, 416, [("VN30F1M", '#cfcfcf'), ("- CoPhieuVip.com - Price Volume Trend", '#20c020'), ("= -1.05,", '#cfcfcf'),
               ("Crossover 0.5", '#ff3030'), ("= 0.06,", '#cfcfcf'), ("Zero Line", '#808080'),
               ("= 0.00, MA = -0.32", '#cfcfcf')])
tag(420, "1.20", '#909090')
tag(425, "0.50", '#e00000', 'white')
tag(429, "0.06", '#e00000', 'white')
tag(433, "0.00", '#f0c0c8')
tag(437, "-0.32", '#f0f0f0')
tag(443, "-1.05", '#20e020')

# ---------- RSI pane ----------
axr = pane(461, 535)
axr.set_ylim(15.0, 76.7)
axr.set_yticks([20, 40, 60])
axr.plot(rsi_ma_x, rsi_ma, color='#d8662a', lw=0.8)
axr.plot(rsi_x, rsi, color='#2f9a2f', lw=0.8)
title(474, "COPHIEUVIP.COM RSI")
chain(2, 465, [("VN30F1M", '#cfcfcf'), ("- RSI", '#20c020'), ("= 50.12,", '#cfcfcf'), ("RSI MA", '#e07030'),
               ("= 55.60,", '#cfcfcf'), ("Quá mua", '#ff3030'), ("= 70.00,", '#cfcfcf'), ("Quá bán", '#20c020'),
               ("= 30.00", '#cfcfcf')])
tag(469, "70", '#e00000', 'white')
tag(486, "55.60", '#e07030')
tag(493, "50.12", '#20a020', 'white')
tag(517, "30", '#20a020', 'white')

# ---------- MACD pane ----------
axm = pane(536, 615)
axm.set_ylim(-8.0, 11.75)
axm.set_yticks([-6, 0, 8])
hist = np.array(macd_hist)
prev = np.concatenate([[hist[0]], hist[:-1]])
hcol = np.where(hist >= 0, np.where(hist >= prev, '#9be39b', '#e4e4e4'),
                np.where(hist <= prev, '#ff2a2a', '#ff8a3c'))
axm.vlines(idx, 0, hist, colors=hcol, lw=0.8)
axm.plot(macd_x, macd_line, color='#3a9a4a', lw=0.8)
axm.plot(signal_x, signal_line, color='#c0392b', lw=0.8)
axm.scatter(macd_mark_x, macd_mark_v, marker='^', s=4, color='#9a4dff', lw=0, zorder=4)
title(548, "COPHIEUVIP.COM - MCAD")
chain(2, 540, [("COPHIEUVIP.COM MACD", '#e0e0e0', '#a020a0'), ("VN30F1M", '#e0e000'),
               ("- 15-minute - 6/12/2025 2:45:00 PM", '#e0e0e0')])
chain(2, 546, [("Mở cửa 1409.2  Cao 1409.2  Thấp 1409.2  Đóng cửa 1409.2  Khối Lượng = 6,711.000 -", '#e0e0e0'),
               ("Đếm Time:", '#ff3030'), ("2:51:00", '#20e020'), ("- Giá thay đổi:", '#ff3030'),
               ("7.00 (0.52%)", '#20e020')])
tag(563, "3.25", '#20c020')
tag(569, "2.40", '#ff8c40')
tag(600, "-4.20", '#ff8c40')

# pane borders and axis line
for yb in [229, 237, 262.5, 412.5, 460.5, 535.5]:
    fig.add_artist(plt.Line2D([0, 1], [1 - yb / H] * 2, transform=fig.transFigure, color='#444444', lw=0.7))
fig.add_artist(plt.Line2D([1177 / W] * 2, [0, 1 - 8 / H], transform=fig.transFigure, color='#555555', lw=0.7))

fig.savefig('out.png', dpi=100, facecolor='black')
